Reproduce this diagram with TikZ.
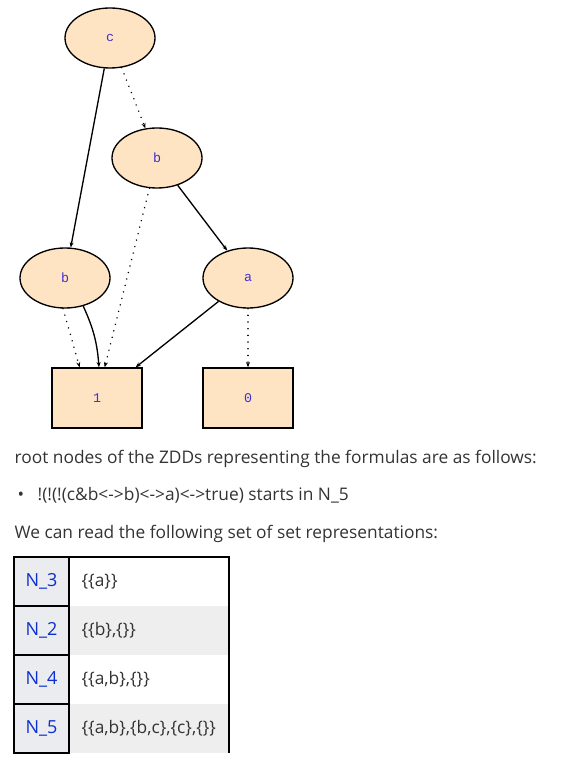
\documentclass[tikz,border=0pt]{standalone}
\usepackage{fontspec}
\setmainfont{Open Sans}
\newfontfamily\labelfont{Liberation Mono}
\usetikzlibrary{arrows.meta, shapes.geometric}
\definecolor{cbisque}{HTML}{FFE4C4}
\definecolor{clabel}{HTML}{3C2FD6}
\definecolor{ctext}{HTML}{333333}
\definecolor{clink}{HTML}{0B2FD0}
\definecolor{ckey}{HTML}{EAECF0}
\definecolor{crow}{HTML}{EEEEEE}
\tikzset{
  every picture/.style={line width=1pt},
  zddnode/.style={ellipse, draw, fill=cbisque, minimum width=67.5pt, minimum height=45pt, font=\labelfont\fontsize{10}{11}\selectfont, text=clabel},
  leaf/.style={rectangle, draw, fill=cbisque, minimum width=67.5pt, minimum height=45pt, font=\labelfont\fontsize{10}{11}\selectfont, text=clabel},
  hi/.style={-{Stealth[length=4pt, width=3pt]}},
  lo/.style={hi, dash pattern=on 0.01pt off 5pt, line cap=round, line width=1.2pt},
  prose/.style={anchor=base west, font=\fontsize{13}{15}\selectfont, text=ctext, inner sep=0pt},
  tabkey/.style={font=\fontsize{13.5}{15}\selectfont, text=clink},
  tabval/.style={anchor=west, font=\fontsize{13}{15}\selectfont, text=ctext, inner sep=0pt},
}
\begin{document}
\begin{tikzpicture}[x=0.75pt, y=-0.75pt]
  \useasboundingbox (0,0) rectangle (587,773);
  % ZDD, one ellipse per variable node, boxes for the terminals
  \node[zddnode] (n5) at (110,38) {c};
  \node[zddnode] (n4) at (157,158) {b};
  \node[zddnode] (n2) at (65,278) {b};
  \node[zddnode] (n3) at (248,278) {a};
  \node[leaf] (t1) at (97,398) {1};
  \node[leaf] (t0) at (248,398) {0};
  % solid = hi child, dotted = lo child
  \draw[hi] (n5) -- (n2);
  \draw[lo] (n5) -- (n4);
  \draw[hi] (n4) -- (n3);
  \draw[lo] (n4) -- (t1);
  \draw[hi] (n3) -- (t1);
  \draw[lo] (n3) -- (t0);
  \draw[lo] ([xshift=-1.5pt]n2.south) -- ([xshift=-13pt]t1.north);
  \draw[hi] (n2.-57) to[bend left=10] ([xshift=1.5pt]t1.north);
  % text below the graph
  \node[prose] (intro) at (14,463) {root nodes of the ZDDs representing the formulas are as follows:};
  \node[prose] (dot) at (17,500) {\textbullet};
  \node[prose] (formula) at (37,500) {!(!(!(c\&b<->b)<->a)<->true) starts in N\_5};
  \node[prose] (lead) at (14,538) {We can read the following set of set representations:};
  % table of set representations, rows 49px high
  \foreach \i/\k/\v in {0/3/{\{\{a\}\}}, 1/2/{\{\{b\},\{\}\}}, 2/4/{\{\{a,b\},\{\}\}}, 3/5/{\{\{a,b\},\{b,c\},\{c\},\{\}\}}} {
    \ifodd\i \fill[crow] (69,557+49*\i) rectangle (229,606+49*\i); \fi
    \draw[fill=ckey] (14,557+49*\i) rectangle (69,606+49*\i);
    \node[tabkey] (k\k) at (41.5,581.5+49*\i) {N\_\k};
    \node[tabval] (v\k) at (81,581.5+49*\i) {\v};
  }
  \draw (69,557) -- (229,557) -- (229,753);
\end{tikzpicture}
\end{document}
